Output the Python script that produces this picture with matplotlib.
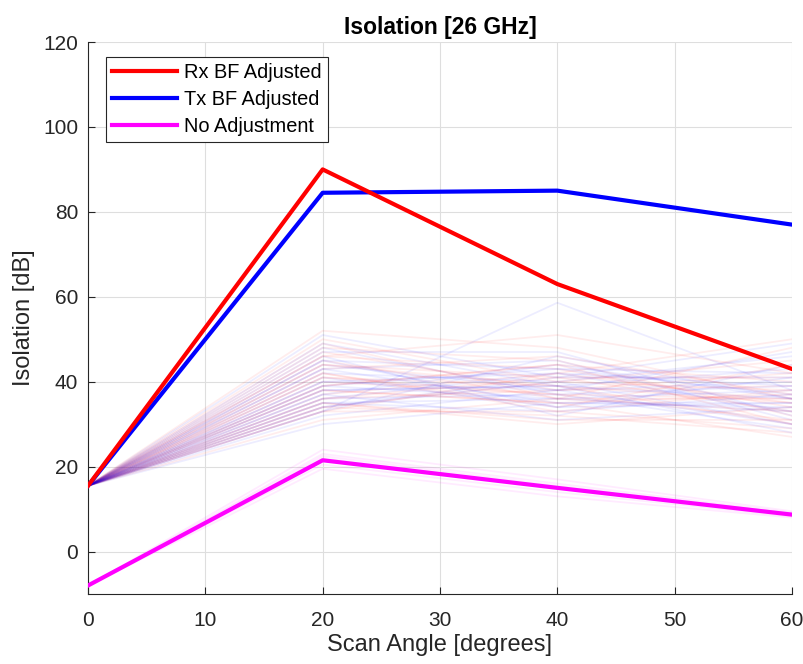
import matplotlib
matplotlib.use("Agg")
import matplotlib.pyplot as plt

plt.rcParams['font.family'] = ['Liberation Sans', 'DejaVu Sans']

angles = [0, 20, 40, 60]

# Main curves
rx_adjusted = [15.5, 90.0, 63.0, 43.0]
tx_adjusted = [15.5, 84.5, 85.0, 77.0]
no_adjust = [-8.0, 21.5, 15.0, 8.7]

# Individual Rx trials (values at 20, 40, 60 deg; all start at 15.5 dB)
rx_trials_20 = [31, 33, 34, 35, 36, 37, 38, 39, 40, 41, 42, 43, 44, 45, 46,
                47, 48, 50, 52, 34, 36, 38, 41, 44, 33, 35, 39, 42, 46, 49]
rx_trials_40 = [36, 33, 40, 31, 38, 42, 35, 44, 37, 39, 34, 46, 41, 36, 43,
                38, 45, 40, 48, 32, 41, 35, 37, 39, 42, 30, 44, 33, 51, 36]
rx_trials_60 = [33, 29, 38, 31, 42, 35, 27, 40, 36, 30, 44, 37, 33, 48, 34,
                39, 32, 45, 36, 28, 41, 37, 31, 35, 50, 34, 30, 38, 42, 36]

# Individual Tx trials
tx_trials_20 = [33, 30, 32, 34, 35, 36, 37, 38, 39, 40, 41, 42, 43, 44, 45,
                46, 47, 49, 51, 35, 37, 39, 34, 43, 48, 36, 40, 33, 45, 38]
tx_trials_40 = [58.6, 35, 38, 41, 33, 37, 44, 39, 36, 42, 34, 40, 45, 38, 43,
                32, 47, 39, 41, 36, 31, 43, 40, 35, 37, 42, 38, 46, 34, 39]
tx_trials_60 = [38, 34, 30, 41, 37, 29, 36, 43, 33, 39, 35, 46, 31, 40, 37,
                44, 32, 36, 49, 38, 34, 42, 30, 35, 39, 33, 47, 36, 41, 28]

# No-adjustment trials
na_trials_0 = [-8.0, -8.0, -8.0, -8.0, -8.0, -8.0]
na_trials_20 = [24.0, 23.0, 22.5, 20.5, 19.5, 22.0]
na_trials_40 = [17.0, 16.0, 15.5, 14.0, 13.0, 15.0]
na_trials_60 = [9.5, 9.2, 8.9, 8.3, 8.0, 9.0]

start_trials = 15.5

fig = plt.figure(figsize=(8.04, 6.64), dpi=100)
ax = fig.add_axes([0.1095, 0.1054, 0.8755, 0.8313])

for a, b, c in zip(rx_trials_20, rx_trials_40, rx_trials_60):
    ax.plot(angles, [start_trials, a, b, c], color=(1, 0, 0), alpha=0.07, lw=1.3, zorder=2)
for a, b, c in zip(tx_trials_20, tx_trials_40, tx_trials_60):
    ax.plot(angles, [start_trials, a, b, c], color=(0, 0, 1), alpha=0.07, lw=1.3, zorder=2)
for s, a, b, c in zip(na_trials_0, na_trials_20, na_trials_40, na_trials_60):
    ax.plot(angles, [s, a, b, c], color=(1, 0, 1), alpha=0.08, lw=1.3, zorder=2)

ax.plot(angles, rx_adjusted, color='#ff0000', lw=3, label='Rx BF Adjusted', zorder=4)
ax.plot(angles, tx_adjusted, color='#0000ff', lw=3, label='Tx BF Adjusted', zorder=3)
ax.plot(angles, no_adjust, color='#ff00ff', lw=3, label='No Adjustment', zorder=3)

ax.set_xlim(0, 60)
ax.set_ylim(-10, 120)
ax.set_xticks(range(0, 61, 10))
ax.set_yticks(range(0, 121, 20))
ax.grid(True, color='#dedede', lw=0.8)
ax.set_axisbelow(True)
for side in ['top', 'right']:
    ax.spines[side].set_visible(False)
for side in ['left', 'bottom']:
    ax.spines[side].set_color('#262626')
    ax.spines[side].set_linewidth(0.8)
ax.tick_params(direction='in', labelsize=15, colors='#262626', length=5, width=0.8)
ax.tick_params(axis='x', pad=12)
ax.tick_params(axis='y', pad=7)

ax.set_xlabel('Scan Angle [degrees]', fontsize=17, color='#262626', labelpad=3)
ax.set_ylabel('Isolation [dB]', fontsize=17, color='#262626', labelpad=6)
ax.set_title('Isolation [26 GHz]', fontsize=16.5, fontweight='bold', color='#000000', pad=6)

leg = ax.legend(loc='upper left', bbox_to_anchor=(0.0256, 0.973), borderaxespad=0,
                fontsize=14.4, frameon=True, fancybox=False, edgecolor='#262626',
                framealpha=1, handlelength=3.25, handletextpad=0.35, borderpad=0.3,
                labelspacing=0.4)
leg.get_frame().set_linewidth(0.8)

fig.savefig('out.png', dpi=100)
